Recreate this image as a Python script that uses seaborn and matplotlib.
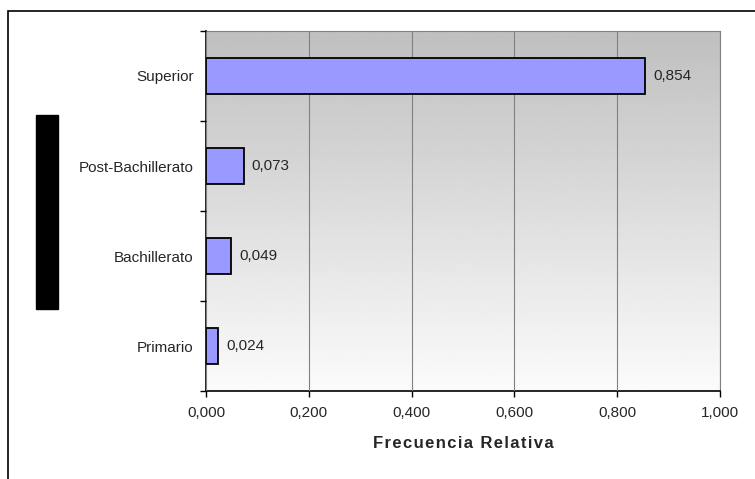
import numpy as np
import pandas as pd
import matplotlib
matplotlib.use("Agg")
import matplotlib.pyplot as plt
import seaborn as sns
from matplotlib.patches import Rectangle

categorias = ["Superior", "Post-Bachillerato", "Bachillerato", "Primario"]
frecuencia = [0.854, 0.073, 0.049, 0.024]
ticks_x = [0.0, 0.2, 0.4, 0.6, 0.8, 1.0]

df = pd.DataFrame({"categoria": categorias, "frecuencia": frecuencia})

sns.set_style("white")
plt.rcParams['font.family'] = ['Liberation Sans', 'DejaVu Sans']

fig = plt.figure(figsize=(7.55, 4.79), dpi=100)
ax = fig.add_axes([206 / 755, 1 - 391 / 479, 514 / 755, 360 / 479])

# gradient background, darker at top
grad = np.linspace(0.75, 0.985, 256).reshape(-1, 1)
ax.imshow(grad, cmap="gray", vmin=0, vmax=1, aspect="auto",
          extent=[0, 1, 3.5, -0.5], zorder=0)

sns.barplot(data=df, x="frecuencia", y="categoria", orient="h", ax=ax,
            color="#9999FF", saturation=1, width=0.4,
            edgecolor="black", linewidth=1.3, zorder=3)

for i, v in enumerate(frecuencia):
    ax.text(v + 0.016, i, f"{v:.3f}".replace(".", ","), va="center",
            ha="left", fontsize=11, zorder=4)

ax.set_xlim(0, 1)
ax.set_ylim(3.5, -0.5)
ax.set_xticks(ticks_x)
ax.set_xticklabels([f"{t:.3f}".replace(".", ",") for t in ticks_x], fontsize=11)
ax.xaxis.grid(True, color="#808080", linewidth=0.8)
ax.set_axisbelow(False)
for line in ax.get_xgridlines():
    line.set_zorder(1)
ax.tick_params(axis="x", bottom=True, direction="out", length=4, width=1,
               pad=7, color="black")
ax.tick_params(axis="y", which="major", left=True, length=0, pad=9, labelsize=11)
ax.set_yticks(np.arange(-0.5, 4, 1), minor=True)
ax.tick_params(axis="y", which="minor", left=True, direction="out", length=4,
               width=1, color="black")
ax.set_ylabel("")
ax.set_xlabel("\u200a".join("Frecuencia Relativa"), fontsize=12,
              fontweight="bold", labelpad=11)

for s in ["left", "bottom"]:
    ax.spines[s].set_color("black")
    ax.spines[s].set_linewidth(1.2)
for s in ["top", "right"]:
    ax.spines[s].set_color("#808080")
    ax.spines[s].set_linewidth(0.8)

# outer chart border and black block on the left
fig.patches.append(Rectangle((8 / 755, -0.05), 1, 1 - 11 / 479 + 0.05,
                             transform=fig.transFigure, fill=False,
                             edgecolor="black", linewidth=1.2))
fig.patches.append(Rectangle((36 / 755, 1 - 309 / 479), 22 / 755, 194 / 479,
                             transform=fig.transFigure, color="black"))

fig.savefig("out.png", dpi=100)
